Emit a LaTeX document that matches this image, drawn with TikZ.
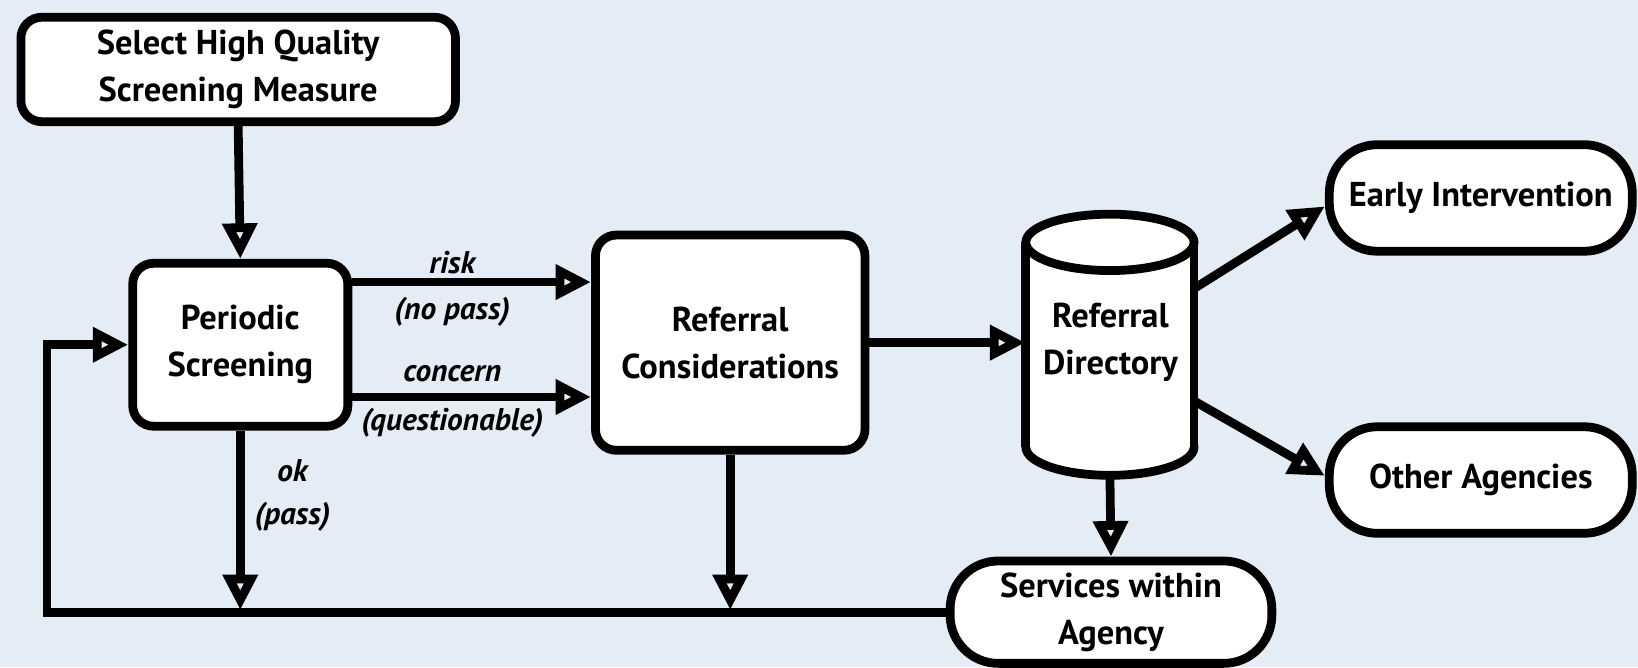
\documentclass[tikz,border=0pt]{standalone}
\usepackage{fontspec}
\setmainfont{PT Sans}
\usetikzlibrary{arrows.meta,calc}
\definecolor{bg}{HTML}{E4ECF5}
\begin{document}
\begin{tikzpicture}[x=0.5pt,y=-0.5pt,
  box/.style={draw, line width=4.2pt, fill=white, rounded corners=10pt, align=center,
    font=\bfseries\fontsize{16.5}{22.5}\selectfont, inner sep=0pt},
  term/.style={box, rounded corners=23pt},
  lbl/.style={font=\bfseries\itshape\fontsize{15}{20}\selectfont, align=center, inner sep=0pt},
  arr/.style={line width=4.2pt, -{Triangle[open, length=17pt, width=16pt, line width=4.2pt]}},
  ln/.style={line width=4.2pt}]
\fill[bg] (0,0) rectangle (1568,638.5);
\useasboundingbox (0,0) rectangle (1568,638.5);

% nodes
\node[box, minimum width=208pt, minimum height=50pt] (sel) at (228,66.5) {Select High Quality\\Screening Measure};
\node[box, minimum width=103pt, minimum height=78pt] (ps) at (230,330) {Periodic\\Screening};
\node[box, minimum width=129pt, minimum height=103pt] (rc) at (699,328) {Referral\\Considerations};
\node[term, minimum width=145pt, minimum height=51pt] (ei) at (1417.5,189.5) {Early Intervention};
\node[term, minimum width=145pt, minimum height=51pt] (oa) at (1417.5,459.5) {Other Agencies};
\node[term, minimum width=154pt, minimum height=49pt] (sa) at (1063.5,586) {Services within\\Agency};

% cylinder
\filldraw[ln, fill=white] (1062.5,428) ellipse [x radius=80.5, y radius=27];
\fill[white] (982,232) rectangle (1143,428);
\draw[ln] (982,232) -- (982,428) (1143,232) -- (1143,428);
\filldraw[ln, fill=white] (1062.5,232) ellipse [x radius=80.5, y radius=27];
\node[minimum width=80.5pt, minimum height=125pt, inner sep=0pt] (rd) at (1062.5,330) {};
\node[align=center, font=\bfseries\fontsize{16.5}{22.5}\selectfont, inner sep=0pt] (rdt) at (1063,328) {Referral\\Directory};

% connectors
\draw[arr] (sel.south) -- (ps.north);
\draw[arr] ([yshift=30pt]ps.east) -- ([yshift=30pt]ps.east -| rc.west);
\draw[arr] ([yshift=-25pt]ps.east) -- ([yshift=-25pt]ps.east -| rc.west);
\draw[arr] (rc.east) -- (rc.east -| rd.west);
\draw[arr] ([yshift=27pt]rd.east) -- ([yshift=-4pt]ei.west);
\draw[arr] ([yshift=-27pt]rd.east) -- ([yshift=2pt]oa.west);
\draw[arr] (rd.south) -- (sa.north);
\coordinate (j1) at (230,584);
\coordinate (j2) at (699,584);
\coordinate (lc) at (45,586);
\draw[arr] (sa.west) -- (lc) |- (ps.west);
\draw[arr] (ps.south) -- (j1);
\draw[arr] (rc.south) -- (j2);

% labels
\node[lbl] (l1) at (433,251) {risk};
\node[lbl] (l2) at (433,298) {(no pass)};
\node[lbl] (l3) at (433,358) {concern};
\node[lbl] (l4) at (433,405) {(questionable)};
\node[lbl] (l5) at (280,451) {ok};
\node[lbl] (l6) at (280,495) {(pass)};
\end{tikzpicture}
\end{document}
